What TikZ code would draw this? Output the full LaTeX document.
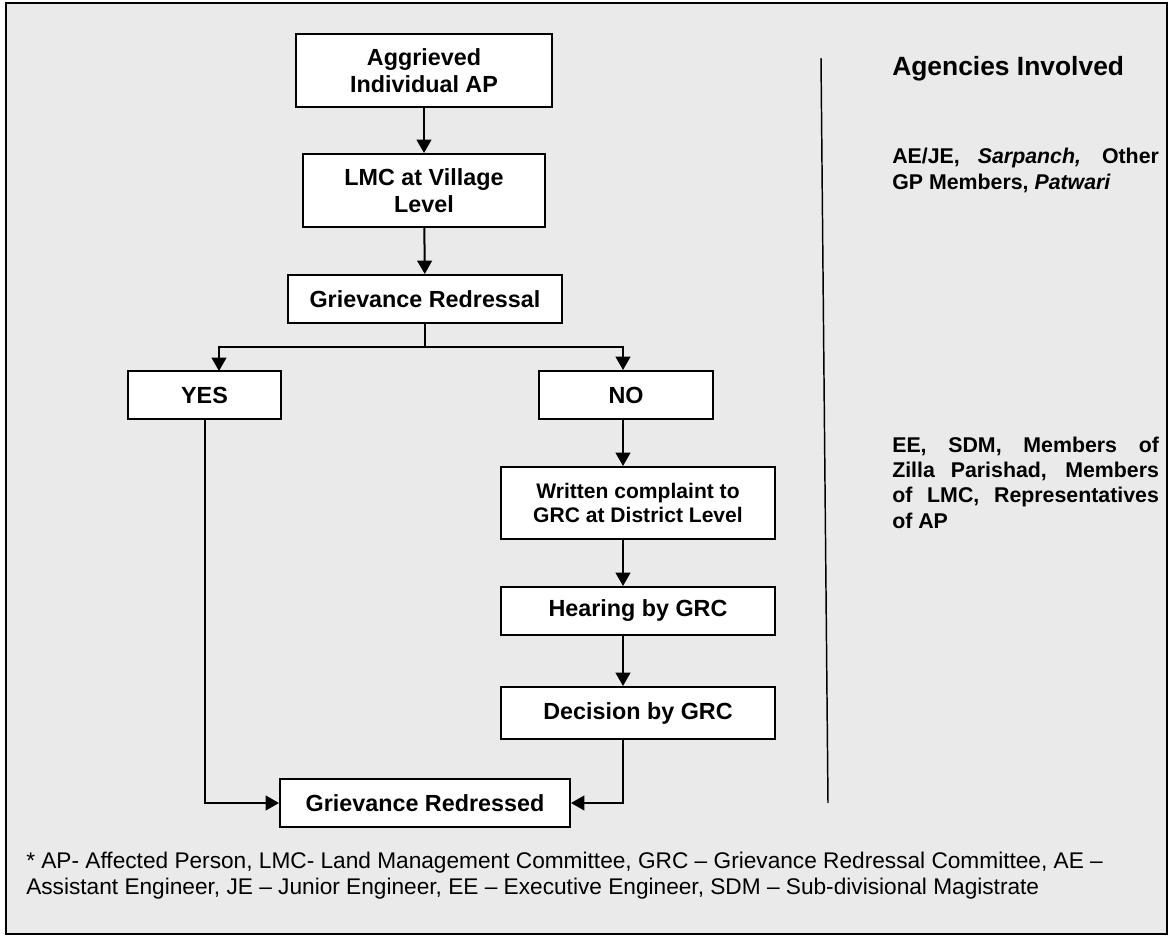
\documentclass[tikz,border=0pt]{standalone}
\usepackage{fontspec}
\setmainfont{Liberation Sans}
\usetikzlibrary{arrows.meta,calc}
\definecolor{bggray}{HTML}{EAEAEA}

\begin{document}
\begin{tikzpicture}[>={Triangle[length=10pt,width=11pt]},x=0.75pt,y=-0.75pt,
 box/.style={draw,line width=1.5pt,fill=white,align=center,inner sep=0pt,font=\bfseries\fontsize{17.5}{20}\selectfont},
 small/.style={font=\bfseries\fontsize{15.8}{18}\selectfont},
 link/.style={->,line width=1.5pt},
 agency/.style={anchor=base west,inner sep=0pt,text width=200pt,align=justify,font=\bfseries\fontsize{16}{19.1}\selectfont},
 note/.style={anchor=base west,inner sep=0pt,align=left,font=\fontsize{17}{19.5}\selectfont}]
\useasboundingbox (0,0) rectangle (1172,938);
\draw[line width=1.5pt,fill=bggray] (6,3) rectangle (1167,934);
% flow boxes
\node[box,minimum width=192pt,minimum height=54.75pt] (agg) at (424,70.5) {Aggrieved\\Individual AP};
\node[box,minimum width=181.5pt,minimum height=54.75pt] (lmc) at (424,190.5) {LMC at Village\\Level};
\node[box,minimum width=205.5pt,minimum height=36pt] (gr) at (425,299) {Grievance Redressal};
\node[box,minimum width=114.75pt,minimum height=36pt] (yes) at (204.5,395) {YES};
\node[box,minimum width=130.5pt,minimum height=36pt] (no) at (626,395) {NO};
\node[box,small,minimum width=205.5pt,minimum height=54pt] (wrc) at (638,503) {Written complaint to\\GRC at District Level};
\node[box,minimum width=205.5pt,minimum height=36pt] (hear) at (638,611) {Hearing by GRC};
\node[box,minimum width=205.5pt,minimum height=39pt] (dec) at (638,713) {Decision by GRC};
\node[box,minimum width=217.5pt,minimum height=36pt] (done) at (425,803) {Grievance Redressed};
\coordinate (split) at (425,347);
\coordinate (yesin) at (219,371);
\coordinate (col) at (623,0);
% connectors
\draw[link] (agg) -- (lmc);
\draw[link] (lmc) -- (gr);
\draw[line width=1.5pt] (gr.south) -- (split);
\draw[link] (split) -| (yesin);
\draw[link] (split) -| (no.north -| col);
\draw[link] (no.south -| col) -- (wrc.north -| col);
\draw[link] (wrc.south -| col) -- (hear.north -| col);
\draw[link] (hear.south -| col) -- (dec.north -| col);
\draw[link] (dec.south -| col) |- (done.east);
\draw[link] (yes.south) |- (done.west);
% agencies column
\draw[line width=1.1pt] (821,58) -- (828,803);
\node[anchor=base west,inner sep=0pt,font=\bfseries\fontsize{19.8}{23}\selectfont] (head) at (892,76) {Agencies Involved};
\node[agency] (vill) at (892,164) {AE/JE, \textit{Sarpanch,} Other\linebreak GP Members, \textit{Patwari}};
\node[agency] (dist) at (892,452) {EE, SDM, Members of\linebreak Zilla Parishad, Members\linebreak of LMC, Representatives\linebreak of AP};
% key
\node[note] (key) at (26,894) {* AP- Affected Person, LMC- Land Management Committee, GRC – Grievance Redressal Committee, AE –\\Assistant Engineer, JE – Junior Engineer, EE – Executive Engineer, SDM – Sub-divisional Magistrate};
\end{tikzpicture}
\end{document}
